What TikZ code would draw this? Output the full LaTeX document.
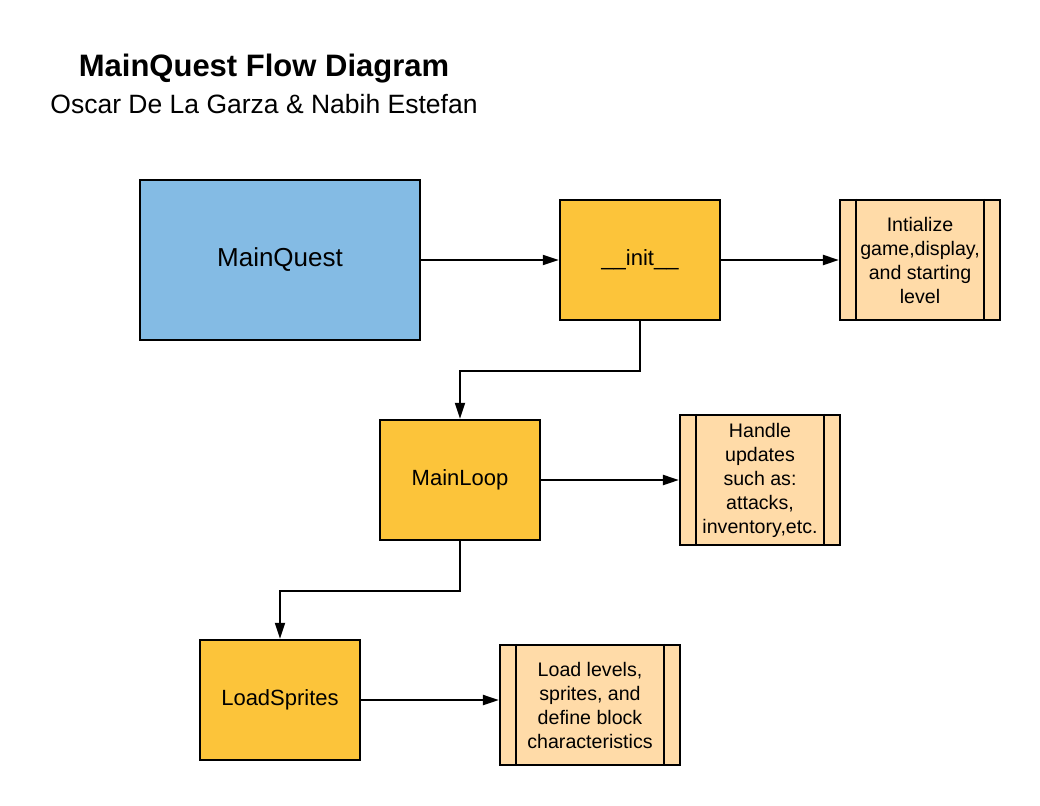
\documentclass[tikz,border=0pt]{standalone}
\usepackage{fontspec}
\setmainfont{Liberation Sans}
\usetikzlibrary{arrows.meta}
\definecolor{mqblue}{HTML}{84BBE4}
\definecolor{stepyellow}{HTML}{FCC43A}
\definecolor{procfill}{HTML}{FFDBA8}
\begin{document}
\begin{tikzpicture}[x=1pt,y=-1pt,
 block/.style={draw,line width=2.5pt,minimum width=160pt,minimum height=120pt,inner sep=0pt,font=\fontsize{22}{26}\selectfont},
 procbox/.style={draw,line width=2.2pt,fill=procfill,minimum width=160pt,minimum height=120pt,inner sep=0pt,align=center,font=\fontsize{19.6}{24}\selectfont},
 link/.style={line width=2pt,-{Triangle[length=16pt,width=10pt]}}]
 \useasboundingbox[fill=white](0,0) rectangle (1040,805);
 % title
 \node[anchor=base,font=\bfseries\fontsize{31}{36}\selectfont](title) at (264,77){MainQuest Flow Diagram};
 \node[anchor=base,font=\fontsize{26.5}{32}\selectfont](authors) at (264,114){Oscar De La Garza \& Nabih Estefan};
 % blocks
 \node[block,fill=mqblue,minimum width=280pt,minimum height=160pt,font=\fontsize{26}{30}\selectfont](mq) at (280,260){MainQuest};
 \node[block,fill=stepyellow](init) at (640,260){\_\_init\_\_};
 \node[procbox](initdo) at (920,260){Intialize\\game,display,\\and starting\\level};
 \node[block,fill=stepyellow](loop) at (460,480){MainLoop};
 \node[procbox,minimum height=130pt](loopdo) at (760,480){Handle\\updates\\such as:\\attacks,\\inventory,etc.};
 \node[block,fill=stepyellow](load) at (280,700){LoadSprites};
 \node[procbox,minimum width=180pt](loaddo) at (590,705){Load levels,\\sprites, and\\define block\\characteristics};
 % side bars of the process boxes
 \foreach \n in {initdo,loopdo,loaddo}{
  \draw[line width=2.2pt]([xshift=17pt]\n.north west)--([xshift=17pt]\n.south west);
  \draw[line width=2.2pt]([xshift=-17pt]\n.north east)--([xshift=-17pt]\n.south east);
 }
 % connectors
 \draw[link](mq.east)--(init.west);
 \draw[link](init.east)--(initdo.west);
 \draw[link](init.south)-- ++(0,50)-|(loop.north);
 \draw[link](loop.east)--(loopdo.west);
 \draw[link](loop.south)-- ++(0,50)-|(load.north);
 \draw[link](load.east)--(load.east-|loaddo.west);
\end{tikzpicture}
\end{document}
